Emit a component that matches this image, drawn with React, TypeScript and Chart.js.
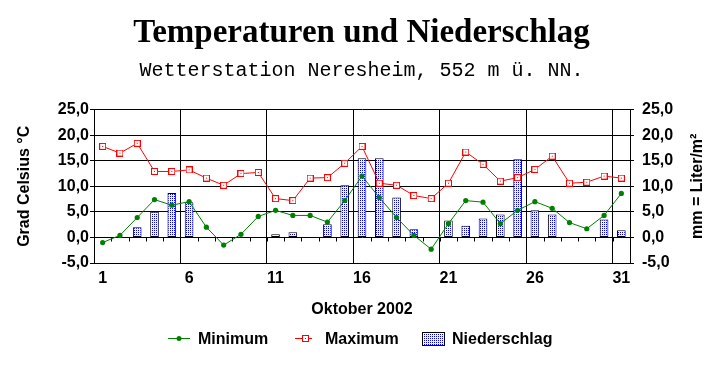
import React, { useEffect, useRef } from 'react';
import { Chart, registerables } from 'chart.js';

Chart.register(...registerables);

// ---- data ----
const days = ['1', '2', '3', '4', '5', '6', '7', '8', '9', '10', '11', '12', '13', '14', '15', '16',
  '17', '18', '19', '20', '21', '22', '23', '24', '25', '26', '27', '28', '29', '30', '31'];
const minimum = [-1.0, 0.4, 3.9, 7.4, 6.3, 7.0, 2.0, -1.5, 0.6, 4.1, 5.3, 4.3, 4.3, 3.0, 7.2, 12.0,
  7.8, 3.9, 0.4, -2.3, 2.7, 7.2, 6.9, 2.7, 5.3, 7.0, 5.7, 2.9, 1.7, 4.3, 8.6];
const maximum = [17.8, 16.5, 18.4, 12.9, 12.9, 13.2, 11.6, 10.2, 12.5, 12.7, 7.6, 7.2, 11.6, 11.7, 14.5, 17.8,
  10.6, 10.2, 8.2, 7.6, 10.6, 16.7, 14.3, 11.0, 11.7, 13.3, 15.9, 10.6, 10.8, 12.0, 11.6];
const niederschlag = [null, null, 2.0, 5.0, 8.7, 6.9, null, null, null, null, 0.6, 1.0, null, 2.6, 10.2, 15.5,
  15.5, 7.8, 1.6, null, 3.3, 2.3, 3.7, 4.5, 15.3, 5.3, 4.5, null, null, 3.5, 1.4];
const Y_MIN = -5;
const Y_MAX = 25;
const Y_STEP = 5;
const LABEL_EVERY = 5;

const titleText = 'Temperaturen und Niederschlag';
const subtitleText = 'Wetterstation Neresheim, 552 m ü. NN.';
const xTitle = 'Oktober 2002';
const leftTitle = 'Grad Celsius °C';
const rightTitle = 'mm = Liter/m²';
const seriesNames = ['Minimum', 'Maximum', 'Niederschlag'];

const SANS = "'Liberation Sans', Arial, sans-serif";
const SERIF = "'Liberation Serif', 'Times New Roman', serif";
const MONO = "'Liberation Mono', 'Courier New', monospace";
const GREEN = '#008000';
const RED = '#ff0000';
const BLUE = '#0000ff';

const fmt = (v: any) => Number(v).toFixed(1).replace('.', ',');

function makePattern(): CanvasPattern | string {
  const c = document.createElement('canvas');
  c.width = 2;
  c.height = 2;
  const g = c.getContext('2d')!;
  g.fillStyle = '#ffffff';
  g.fillRect(0, 0, 2, 2);
  g.fillStyle = BLUE;
  g.fillRect(0, 0, 1, 1);
  const p = g.createPattern(c, 'repeat');
  return p || BLUE;
}

function makeSquareMarker(): HTMLCanvasElement {
  const c = document.createElement('canvas');
  c.width = 7;
  c.height = 7;
  const g = c.getContext('2d')!;
  g.fillStyle = '#ffffff';
  g.fillRect(0, 0, 7, 7);
  g.strokeStyle = RED;
  g.lineWidth = 1;
  g.strokeRect(0.5, 0.5, 6, 6);
  g.fillStyle = RED;
  g.fillRect(3, 3, 1, 1);
  return c;
}

export default function App() {
  const ref = useRef<HTMLCanvasElement | null>(null);

  useEffect(() => {
    if (!ref.current) return;
    const pattern = makePattern();
    const square = makeSquareMarker();

    const zeroTicks = {
      id: 'zeroTicks',
      beforeDatasetsDraw(chart: any) {
        const { ctx } = chart;
        const xs = chart.scales.x;
        const ys = chart.scales.y;
        const y0 = Math.round(ys.getPixelForValue(0)) + 0.5;
        const n = days.length;
        const w = (xs.right - xs.left) / n;
        ctx.save();
        ctx.strokeStyle = '#000';
        ctx.lineWidth = 1;
        ctx.beginPath();
        for (let i = 1; i < n; i++) {
          const x = Math.round(xs.left + i * w) + 0.5;
          ctx.moveTo(x, y0);
          ctx.lineTo(x, y0 + 4);
        }
        ctx.stroke();
        ctx.restore();
      },
    };

    const extras = {
      id: 'extras',
      afterDraw(chart: any) {
        const { ctx, chartArea } = chart;
        ctx.save();
        ctx.fillStyle = '#000';
        ctx.font = `bold 16px ${SANS}`;
        // right axis title (reads bottom to top)
        ctx.save();
        ctx.translate(702, (chartArea.top + chartArea.bottom) / 2);
        ctx.rotate(-Math.PI / 2);
        ctx.textAlign = 'center';
        ctx.textBaseline = 'alphabetic';
        ctx.fillText(rightTitle, 0, 0);
        ctx.restore();

        // legend
        const ly = 340;
        ctx.textAlign = 'left';
        ctx.textBaseline = 'middle';
        // Minimum
        ctx.strokeStyle = GREEN;
        ctx.lineWidth = 1;
        ctx.beginPath();
        ctx.moveTo(168, ly - 1.5);
        ctx.lineTo(190, ly - 1.5);
        ctx.stroke();
        ctx.fillStyle = GREEN;
        ctx.beginPath();
        ctx.arc(179, ly - 1.5, 2.5, 0, Math.PI * 2);
        ctx.fill();
        ctx.fillStyle = '#000';
        ctx.fillText(seriesNames[0], 198, ly);
        // Maximum
        ctx.strokeStyle = RED;
        ctx.beginPath();
        ctx.moveTo(295, ly - 1.5);
        ctx.lineTo(312, ly - 1.5);
        ctx.stroke();
        ctx.drawImage(square, 302, ly - 5);
        ctx.fillStyle = '#000';
        ctx.fillText(seriesNames[1], 325, ly);
        // Niederschlag
        ctx.fillStyle = pattern as any;
        ctx.fillRect(422, 332, 23, 14);
        ctx.strokeStyle = '#000';
        ctx.strokeRect(422.5, 332.5, 22, 13);
        ctx.fillStyle = '#000';
        ctx.fillText(seriesNames[2], 452, ly);
        ctx.restore();
      },
    };

    const tickFont = { family: SANS, size: 16, weight: 'bold' as const, lineHeight: 1.2 };

    const chart = new Chart(ref.current, {
      type: 'bar',
      data: {
        labels: days,
        datasets: [
          {
            type: 'line',
            label: seriesNames[0],
            data: minimum,
            borderColor: GREEN,
            backgroundColor: GREEN,
            borderWidth: 1,
            pointRadius: 2.6,
            pointBackgroundColor: GREEN,
            pointBorderColor: GREEN,
            pointBorderWidth: 0,
            tension: 0,
            yAxisID: 'y',
            order: 0,
          } as any,
          {
            type: 'line',
            label: seriesNames[1],
            data: maximum,
            borderColor: RED,
            backgroundColor: '#ffffff',
            borderWidth: 1,
            pointStyle: square,
            pointRadius: 3.5,
            tension: 0,
            yAxisID: 'y',
            order: 0,
          } as any,
          {
            type: 'bar',
            label: seriesNames[2],
            data: niederschlag,
            backgroundColor: pattern as any,
            borderColor: '#000',
            borderWidth: 1,
            borderSkipped: false,
            categoryPercentage: 1,
            barPercentage: 0.5,
            yAxisID: 'y1',
            order: 1,
          } as any,
        ],
      },
      options: {
        responsive: false,
        animation: false,
        devicePixelRatio: 1,
        layout: { padding: { left: 0, right: 0, top: 0, bottom: 45 } },
        plugins: {
          legend: { display: false },
          tooltip: { enabled: false },
          title: {
            display: true,
            text: titleText,
            color: '#000',
            font: { family: SERIF, size: 33, weight: 'bold', lineHeight: 1.2 },
            padding: { top: 14, bottom: 0 },
          },
          subtitle: {
            display: true,
            text: subtitleText,
            color: '#000',
            font: { family: MONO, size: 20, weight: 'normal', lineHeight: 1.2 },
            padding: { top: 5, bottom: 27 },
          },
        },
        scales: {
          x: {
            type: 'category',
            offset: true,
            grid: {
              offset: true,
              drawTicks: false,
              lineWidth: 1,
              color: (c: any) => (typeof c.index === 'number' && c.index % LABEL_EVERY === 0 ? '#000' : 'rgba(0,0,0,0)'),
            },
            border: { color: '#000', width: 1 },
            ticks: {
              autoSkip: false,
              maxRotation: 0,
              minRotation: 0,
              padding: 6,
              color: '#000',
              font: tickFont,
              callback: (_v: any, i: number) => (i % LABEL_EVERY === 0 ? days[i] : ''),
            },
            title: {
              display: true,
              text: xTitle,
              color: '#000',
              font: tickFont,
              padding: { top: 0, bottom: 4 },
            },
            afterFit: (s: any) => { s.height = 60; },
          },
          y: {
            position: 'left',
            min: Y_MIN,
            max: Y_MAX,
            grid: { color: '#000', lineWidth: 1, tickLength: 4 },
            border: { color: '#000', width: 1 },
            ticks: { stepSize: Y_STEP, padding: 1, color: '#000', font: tickFont, callback: fmt },
            title: {
              display: true,
              text: leftTitle,
              color: '#000',
              font: tickFont,
              padding: { top: 15, bottom: 0 },
            },
            afterFit: (s: any) => { s.width = 94; },
          },
          y1: {
            position: 'right',
            min: Y_MIN,
            max: Y_MAX,
            grid: { drawOnChartArea: false, color: '#000', lineWidth: 1, tickLength: 4 },
            border: { color: '#000', width: 1 },
            ticks: { stepSize: Y_STEP, padding: 8, color: '#000', font: tickFont, callback: fmt },
            afterFit: (s: any) => { s.width = 93; },
          },
        },
      } as any,
      plugins: [zeroTicks, extras],
    });

    return () => chart.destroy();
  }, []);

  return (
    <div style={{ position: 'fixed', left: 0, top: 0, width: 723, height: 368, background: '#fff' }}>
      <canvas ref={ref} width={723} height={368} style={{ display: 'block', width: 723, height: 368 }} />
    </div>
  );
}
